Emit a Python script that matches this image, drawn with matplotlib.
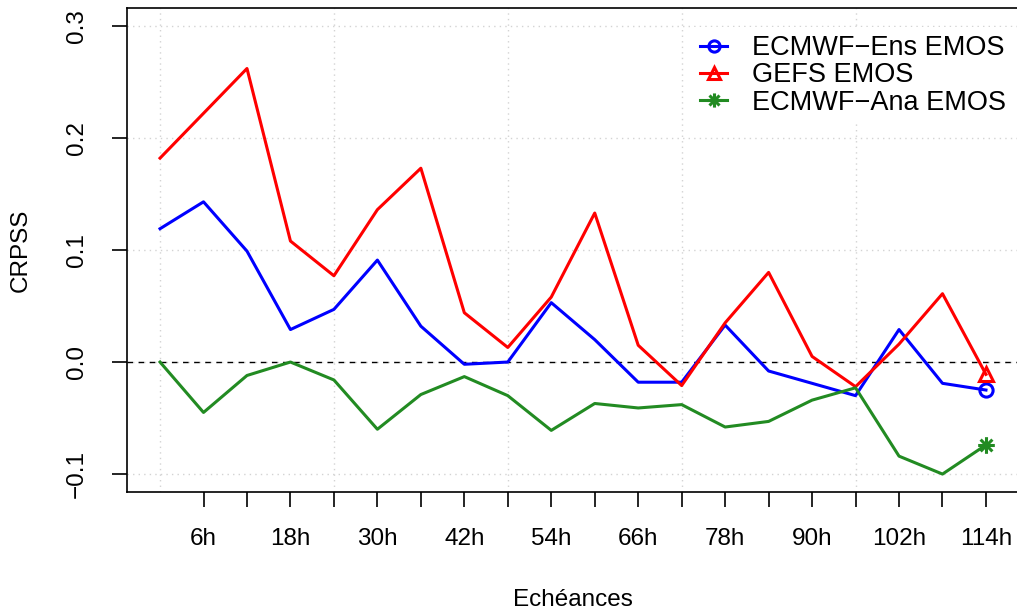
import matplotlib
matplotlib.use("Agg")
import matplotlib.pyplot as plt
from matplotlib.path import Path
from matplotlib.lines import Line2D

plt.rcParams["font.family"] = ["Liberation Sans", "DejaVu Sans"]

# lead times (hours) and CRPSS values
leads = [0, 6, 12, 18, 24, 30, 36, 42, 48, 54, 60, 66, 72, 78, 84, 90, 96, 102, 108, 114]
ecmwf_ens = [0.119, 0.143, 0.099, 0.029, 0.047, 0.091, 0.032, -0.002, 0.000, 0.053,
             0.020, -0.018, -0.018, 0.033, -0.008, -0.019, -0.030, 0.029, -0.019, -0.025]
gefs = [0.182, 0.222, 0.262, 0.108, 0.077, 0.136, 0.173, 0.044, 0.013, 0.058,
        0.133, 0.015, -0.021, 0.035, 0.080, 0.005, -0.022, 0.016, 0.061, -0.011]
ecmwf_ana = [0.000, -0.045, -0.012, 0.000, -0.016, -0.060, -0.029, -0.013, -0.030, -0.061,
             -0.037, -0.041, -0.038, -0.058, -0.053, -0.034, -0.023, -0.084, -0.100, -0.074]

tick_hours = list(range(6, 115, 6))
tick_labels = ["6h", "", "18h", "", "30h", "", "42h", "", "54h", "", "66h", "",
               "78h", "", "90h", "", "102h", "", "114h"]
grid_x = [0, 24, 48, 72, 96, 120]
grid_y = [-0.1, 0.0, 0.1, 0.2, 0.3]

# R-like asterisk (pch = 8): plus + cross
_c = 0.7071
asterisk = Path(
    [(-1, 0), (1, 0), (0, -1), (0, 1), (-_c, -_c), (_c, _c), (-_c, _c), (_c, -_c)],
    [Path.MOVETO, Path.LINETO] * 4,
)

series = [
    ("ECMWF\u2212Ens EMOS", ecmwf_ens, "#0000FF", "o", 9.5),
    ("GEFS EMOS", gefs, "#FF0000", "^", 10),
    ("ECMWF\u2212Ana EMOS", ecmwf_ana, "#228B22", asterisk, 12),
]

fig = plt.figure(figsize=(10.17, 6.13), dpi=100)
W, H = 1017, 613
ax = fig.add_axes([127 / W, 1 - 492 / H, (1019 - 127) / W, (492 - 8) / H])
ax.set_xlim(-4.56, 118.56)
ax.set_ylim(-0.116, 0.316)

for gx in grid_x:
    ax.axvline(gx, color="lightgray", ls=(0, (1, 3)), lw=1.0, zorder=0)
for gy in grid_y:
    ax.axhline(gy, color="lightgray", ls=(0, (1, 3)), lw=1.0, zorder=0)

ax.axhline(0, color="black", ls=(0, (4, 4)), lw=1.0, zorder=1)

handles = []
for name, vals, col, mk, ms in series:
    ax.plot(leads, vals, color=col, lw=2.2, zorder=3)
    ax.plot(leads[-1], vals[-1], ls="none", marker=mk, ms=ms, mfc="none",
            mec=col, mew=2.2, zorder=4)
    handles.append(Line2D([0], [0], color=col, lw=2.2, marker=mk, ms=ms * 0.85,
                          mfc="none", mec=col, mew=2.2, label=name))

for sp in ax.spines.values():
    sp.set_linewidth(1.2)

ax.set_xticks(tick_hours)
ax.set_xticklabels(tick_labels)
ax.set_yticks(grid_y)
ax.set_yticklabels(["\u22120.1", "0.0", "0.1", "0.2", "0.3"], rotation=90, va="center")
ax.tick_params(axis="both", length=11, width=1.2, labelsize=17.5)
ax.tick_params(axis="x", pad=15)
ax.tick_params(axis="y", pad=17)

ax.set_xlabel("Echéances", fontsize=17.5, labelpad=28)
ax.set_ylabel("CRPSS", fontsize=17.5, labelpad=25)

leg = ax.legend(handles=handles, loc="upper left",
                bbox_to_anchor=(692 / W, 1 - 27 / H), bbox_transform=fig.transFigure,
                fontsize=19.5, frameon=True, fancybox=False, edgecolor="none",
                facecolor="white", framealpha=1, handlelength=1.0,
                handletextpad=0.93, labelspacing=0.05, borderpad=0.3,
                borderaxespad=0)

fig.savefig("out.png", dpi=100)
